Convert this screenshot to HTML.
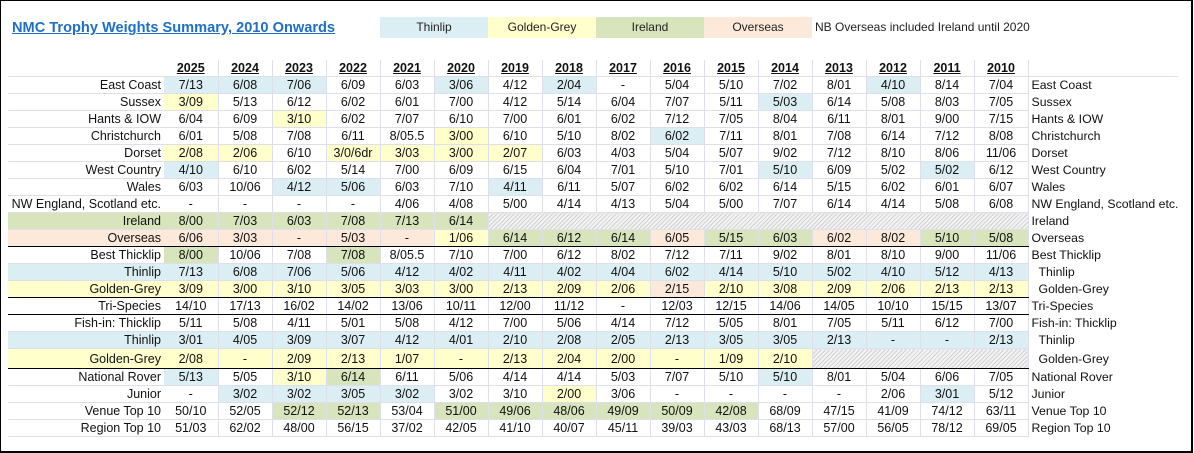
<!DOCTYPE html>
<html><head><meta charset="utf-8"><style>
body{margin:0;width:1194px;height:453px;background:#fff;position:relative;overflow:hidden;font-family:"Liberation Sans",sans-serif;}
#frame{position:absolute;left:0;top:0;width:1190px;height:450px;border:1px solid #000;border-right:2px solid #000;border-bottom:2px solid #000;}
#title{position:absolute;left:12px;top:20px;font-size:14.6px;font-weight:bold;color:#1f6fc6;text-decoration:underline;}
.lg{position:absolute;top:17px;height:21px;line-height:21px;text-align:center;font-size:12px;color:#222;}
table{position:absolute;left:8px;top:60px;border-collapse:collapse;table-layout:fixed;font-size:12.5px;color:#111;}
td{height:16px;padding:0;border-right:1px solid #dde0ea;border-bottom:1px solid #dde0ea;text-align:center;white-space:nowrap;overflow:hidden;line-height:16px;}
td.l{text-align:right;padding-right:3px;border-right:none}
td.r{text-align:left;padding-left:3px;border:none;border-bottom:1px solid #fff;font-size:12.3px}
tr.h td{font-weight:bold;text-decoration:underline;border-bottom:1px solid #dde0ea}
tr.h td.l,tr.h td.r{text-decoration:none}
.b{background:#daeef3}.y{background:#ffffcc}.g{background:#d7e4bc}.p{background:#fde9d9}
.hx{background:repeating-linear-gradient(135deg,#d0d0d0 0 1px,#f3f3f3 1px 3px)}
tr.k td{border-bottom:1px solid #000}
tr.k td.r{border-bottom:1px solid #fff}
tr.t td{height:19px}
</style></head><body>
<div id="frame"></div>
<div id="title">NMC Trophy Weights Summary, 2010 Onwards</div>
<div class="lg b" style="left:380px;width:108px">Thinlip</div>
<div class="lg y" style="left:488px;width:108px">Golden-Grey</div>
<div class="lg g" style="left:596px;width:108px">Ireland</div>
<div class="lg p" style="left:704px;width:108px">Overseas</div>
<div class="lg" style="left:815px;text-align:left">NB Overseas included Ireland until 2020</div>
<table>
<colgroup><col style="width:156px"><col span="16" style="width:54px"><col style="width:150px"></colgroup>
<tr class="h"><td class="l"></td><td>2025</td><td>2024</td><td>2023</td><td>2022</td><td>2021</td><td>2020</td><td>2019</td><td>2018</td><td>2017</td><td>2016</td><td>2015</td><td>2014</td><td>2013</td><td>2012</td><td>2011</td><td>2010</td><td class="r"></td></tr>
<tr><td class="l">East Coast</td><td class="b">7/13</td><td class="b">6/08</td><td class="b">7/06</td><td>6/09</td><td>6/03</td><td class="b">3/06</td><td>4/12</td><td class="b">2/04</td><td>-</td><td>5/04</td><td>5/10</td><td>7/02</td><td>8/01</td><td class="b">4/10</td><td>8/14</td><td>7/04</td><td class="r">East Coast</td></tr>
<tr><td class="l">Sussex</td><td class="y">3/09</td><td>5/13</td><td>6/12</td><td>6/02</td><td>6/01</td><td>7/00</td><td>4/12</td><td>5/14</td><td>6/04</td><td>7/07</td><td>5/11</td><td class="b">5/03</td><td>6/14</td><td>5/08</td><td>8/03</td><td>7/05</td><td class="r">Sussex</td></tr>
<tr><td class="l">Hants &amp; IOW</td><td>6/04</td><td>6/09</td><td class="y">3/10</td><td>6/02</td><td>7/07</td><td>6/10</td><td>7/00</td><td>6/01</td><td>6/02</td><td>7/12</td><td>7/05</td><td>8/04</td><td>6/11</td><td>8/01</td><td>9/00</td><td>7/15</td><td class="r">Hants &amp; IOW</td></tr>
<tr><td class="l">Christchurch</td><td>6/01</td><td>5/08</td><td>7/08</td><td>6/11</td><td>8/05.5</td><td class="y">3/00</td><td>6/10</td><td>5/10</td><td>8/02</td><td class="b">6/02</td><td>7/11</td><td>8/01</td><td>7/08</td><td>6/14</td><td>7/12</td><td>8/08</td><td class="r">Christchurch</td></tr>
<tr><td class="l">Dorset</td><td class="y">2/08</td><td class="y">2/06</td><td>6/10</td><td class="y">3/0/6dr</td><td class="y">3/03</td><td class="y">3/00</td><td class="y">2/07</td><td>6/03</td><td>4/03</td><td>5/04</td><td>5/07</td><td>9/02</td><td>7/12</td><td>8/10</td><td>8/06</td><td>11/06</td><td class="r">Dorset</td></tr>
<tr><td class="l">West Country</td><td class="b">4/10</td><td>6/10</td><td>6/02</td><td>5/14</td><td>7/00</td><td>6/09</td><td>6/15</td><td>6/04</td><td>7/01</td><td>5/10</td><td>7/01</td><td class="b">5/10</td><td>6/09</td><td>5/02</td><td class="b">5/02</td><td>6/12</td><td class="r">West Country</td></tr>
<tr><td class="l">Wales</td><td>6/03</td><td>10/06</td><td class="b">4/12</td><td class="b">5/06</td><td>6/03</td><td>7/10</td><td class="b">4/11</td><td>6/11</td><td>5/07</td><td>6/02</td><td>6/02</td><td>6/14</td><td>5/15</td><td>6/02</td><td>6/01</td><td>6/07</td><td class="r">Wales</td></tr>
<tr><td class="l">NW England, Scotland etc.</td><td>-</td><td>-</td><td>-</td><td>-</td><td>4/06</td><td>4/08</td><td>5/00</td><td>4/14</td><td>4/13</td><td>5/04</td><td>5/00</td><td>7/07</td><td>6/14</td><td>4/14</td><td>5/08</td><td>6/08</td><td class="r">NW England, Scotland etc.</td></tr>
<tr class="g"><td class="l">Ireland</td><td>8/00</td><td>7/03</td><td>6/03</td><td>7/08</td><td>7/13</td><td>6/14</td><td class="hx" colspan="10"></td><td class="r" style="background:#fff">Ireland</td></tr>
<tr class="p k"><td class="l">Overseas</td><td>6/06</td><td>3/03</td><td>-</td><td>5/03</td><td>-</td><td class="y">1/06</td><td class="g">6/14</td><td class="g">6/12</td><td class="g">6/14</td><td>6/05</td><td class="g">5/15</td><td class="g">6/03</td><td>6/02</td><td>8/02</td><td class="g">5/10</td><td class="g">5/08</td><td class="r" style="background:#fff">Overseas</td></tr>
<tr><td class="l">Best Thicklip</td><td class="g">8/00</td><td>10/06</td><td>7/08</td><td class="g">7/08</td><td>8/05.5</td><td>7/10</td><td>7/00</td><td>6/12</td><td>8/02</td><td>7/12</td><td>7/11</td><td>9/02</td><td>8/01</td><td>8/10</td><td>9/00</td><td>11/06</td><td class="r">Best Thicklip</td></tr>
<tr class="b"><td class="l">Thinlip</td><td>7/13</td><td>6/08</td><td>7/06</td><td>5/06</td><td>4/12</td><td>4/02</td><td>4/11</td><td>4/02</td><td>4/04</td><td>6/02</td><td>4/14</td><td>5/10</td><td>5/02</td><td>4/10</td><td>5/12</td><td>4/13</td><td class="r" style="background:#fff;padding-left:10px">Thinlip</td></tr>
<tr class="y k"><td class="l">Golden-Grey</td><td>3/09</td><td>3/00</td><td>3/10</td><td>3/05</td><td>3/03</td><td>3/00</td><td>2/13</td><td>2/09</td><td>2/06</td><td class="p">2/15</td><td>2/10</td><td>3/08</td><td>2/09</td><td>2/06</td><td>2/13</td><td>2/13</td><td class="r" style="background:#fff;padding-left:10px">Golden-Grey</td></tr>
<tr class="k"><td class="l">Tri-Species</td><td>14/10</td><td>17/13</td><td>16/02</td><td>14/02</td><td>13/06</td><td>10/11</td><td>12/00</td><td>11/12</td><td>-</td><td>12/03</td><td>12/15</td><td>14/06</td><td>14/05</td><td>10/10</td><td>15/15</td><td>13/07</td><td class="r">Tri-Species</td></tr>
<tr><td class="l">Fish-in: Thicklip</td><td>5/11</td><td>5/08</td><td>4/11</td><td>5/01</td><td>5/08</td><td>4/12</td><td>7/00</td><td>5/06</td><td>4/14</td><td>7/12</td><td>5/05</td><td>8/01</td><td>7/05</td><td>5/11</td><td>6/12</td><td>7/00</td><td class="r">Fish-in: Thicklip</td></tr>
<tr class="b"><td class="l">Thinlip</td><td>3/01</td><td>4/05</td><td>3/09</td><td>3/07</td><td>4/12</td><td>4/01</td><td>2/10</td><td>2/08</td><td>2/05</td><td>2/13</td><td>3/05</td><td>3/05</td><td>2/13</td><td>-</td><td>-</td><td>2/13</td><td class="r" style="background:#fff;padding-left:10px">Thinlip</td></tr>
<tr class="y k t"><td class="l">Golden-Grey</td><td>2/08</td><td>-</td><td>2/09</td><td>2/13</td><td>1/07</td><td>-</td><td>2/13</td><td>2/04</td><td>2/00</td><td>-</td><td>1/09</td><td>2/10</td><td class="hx" colspan="4"></td><td class="r" style="background:#fff;padding-left:10px">Golden-Grey</td></tr>
<tr><td class="l">National Rover</td><td class="b">5/13</td><td>5/05</td><td class="y">3/10</td><td class="g">6/14</td><td>6/11</td><td>5/06</td><td>4/14</td><td>4/14</td><td>5/03</td><td>7/07</td><td>5/10</td><td class="b">5/10</td><td>8/01</td><td>5/04</td><td>6/06</td><td>7/05</td><td class="r">National Rover</td></tr>
<tr><td class="l">Junior</td><td>-</td><td class="b">3/02</td><td class="b">3/02</td><td class="b">3/05</td><td class="b">3/02</td><td>3/02</td><td>3/10</td><td class="y">2/00</td><td>3/06</td><td>-</td><td>-</td><td>-</td><td>-</td><td>2/06</td><td class="b">3/01</td><td>5/12</td><td class="r">Junior</td></tr>
<tr><td class="l">Venue Top 10</td><td>50/10</td><td>52/05</td><td class="g">52/12</td><td class="g">52/13</td><td>53/04</td><td class="g">51/00</td><td class="g">49/06</td><td class="g">48/06</td><td class="g">49/09</td><td class="g">50/09</td><td class="g">42/08</td><td>68/09</td><td>47/15</td><td>41/09</td><td>74/12</td><td>63/11</td><td class="r">Venue Top 10</td></tr>
<tr><td class="l">Region Top 10</td><td>51/03</td><td>62/02</td><td>48/00</td><td>56/15</td><td>37/02</td><td>42/05</td><td>41/10</td><td>40/07</td><td>45/11</td><td>39/03</td><td>43/03</td><td>68/13</td><td>57/00</td><td>56/05</td><td>78/12</td><td>69/05</td><td class="r">Region Top 10</td></tr>
</table>
</body></html>
